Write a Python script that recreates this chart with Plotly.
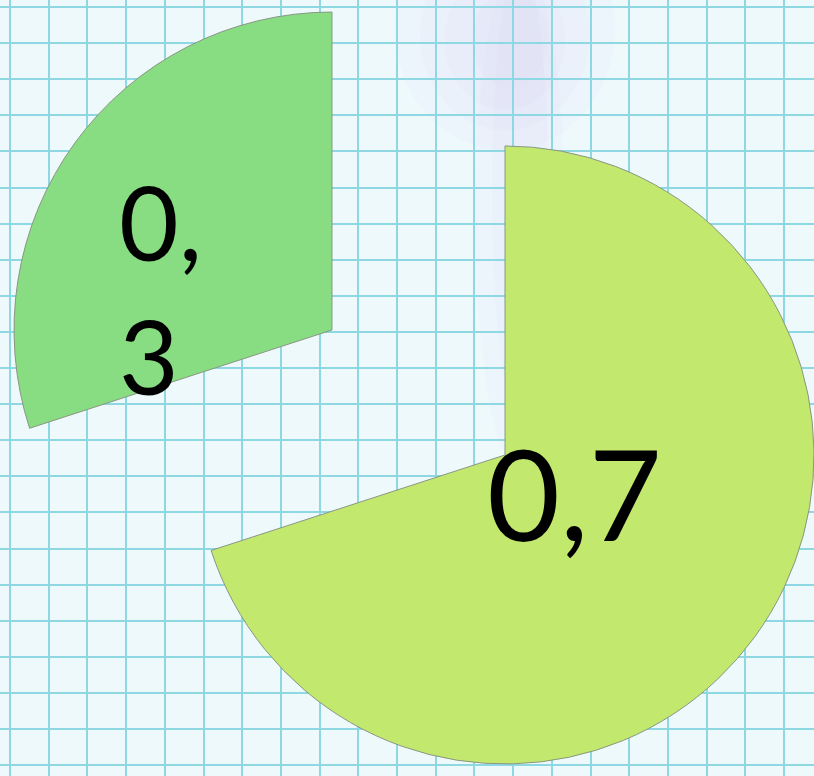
import plotly.graph_objects as go

# ---- data ----
categories = ["A", "B"]
values = [0.7, 0.3]
label_text = ["0,7", "0,<br>3"]
slice_colors = ["#C2E86E", "#88DC82"]

W, H = 814, 776
transparent = "rgba(0,0,0,0)"
edge = "#8a9684"

fig = go.Figure()
# empty cartesian trace so the graph-paper grid (axis gridlines) is drawn
fig.add_trace(go.Scatter(x=[], y=[], showlegend=False, hoverinfo="skip"))

# big (0,7) slice
fig.add_trace(go.Pie(
    labels=categories, values=values, sort=False, direction="clockwise", rotation=0,
    marker=dict(colors=[slice_colors[0], transparent],
                line=dict(color=[edge, transparent], width=1)),
    textinfo="none", hoverinfo="label+value", showlegend=False,
    domain=dict(x=[0.2408, 1.0], y=[0.0155, 0.8119]),
))
# small (0,3) slice, pulled out
fig.add_trace(go.Pie(
    labels=categories, values=values, sort=False, direction="clockwise", rotation=0,
    marker=dict(colors=[transparent, slice_colors[1]],
                line=dict(color=[transparent, edge], width=1)),
    textinfo="none", hoverinfo="label+value", showlegend=False,
    domain=dict(x=[0.0172, 0.7985], y=[0.165, 0.9845]),
))

font_family = "Lato, 'Open Sans', sans-serif"
fig.add_annotation(text=label_text[0], xref="paper", yref="paper",
                   x=574 / W, y=1 - 492 / H, xanchor="center", yanchor="middle",
                   showarrow=False, font=dict(family=font_family, size=126, color="#000000"))
fig.add_annotation(text=label_text[1], xref="paper", yref="paper", align="left",
                   x=117 / W, y=1 - 288 / H, xanchor="left", yanchor="middle",
                   showarrow=False, font=dict(family=font_family, size=103, color="#000000"))

# soft lavender glow on the paper (layered for a soft edge)
glow = "rgba(200,186,245,{})"
for (cx, cy, rx, ry) in [(505, 30, 110, 120), (505, 35, 85, 95), (505, 40, 60, 70), (510, 40, 38, 48)]:
    fig.add_shape(type="circle", xref="x", yref="y", x0=cx - rx, x1=cx + rx,
                  y0=cy - ry, y1=cy + ry, fillcolor=glow.format(0.06),
                  line_width=0, layer="below")
for (cx, rx, y1) in [(520, 45, 470), (520, 28, 420)]:
    fig.add_shape(type="circle", xref="x", yref="y", x0=cx - rx, x1=cx + rx,
                  y0=-40, y1=y1, fillcolor=glow.format(0.05),
                  line_width=0, layer="below")

grid = "#8DD8E3"
fig.update_layout(
    width=W, height=H,
    margin=dict(l=0, r=0, t=0, b=0),
    paper_bgcolor="#EEF9FC", plot_bgcolor="#EEF9FC",
    xaxis=dict(range=[0, W], showgrid=True, gridcolor=grid, gridwidth=2,
               tick0=10, dtick=38.7, zeroline=False, showticklabels=False,
               ticks="", showline=False, fixedrange=True),
    yaxis=dict(range=[H, 0], showgrid=True, gridcolor=grid, gridwidth=2,
               tick0=7, dtick=36.1, zeroline=False, showticklabels=False,
               ticks="", showline=False, fixedrange=True),
    showlegend=False,
)

fig.write_html("out.html")
